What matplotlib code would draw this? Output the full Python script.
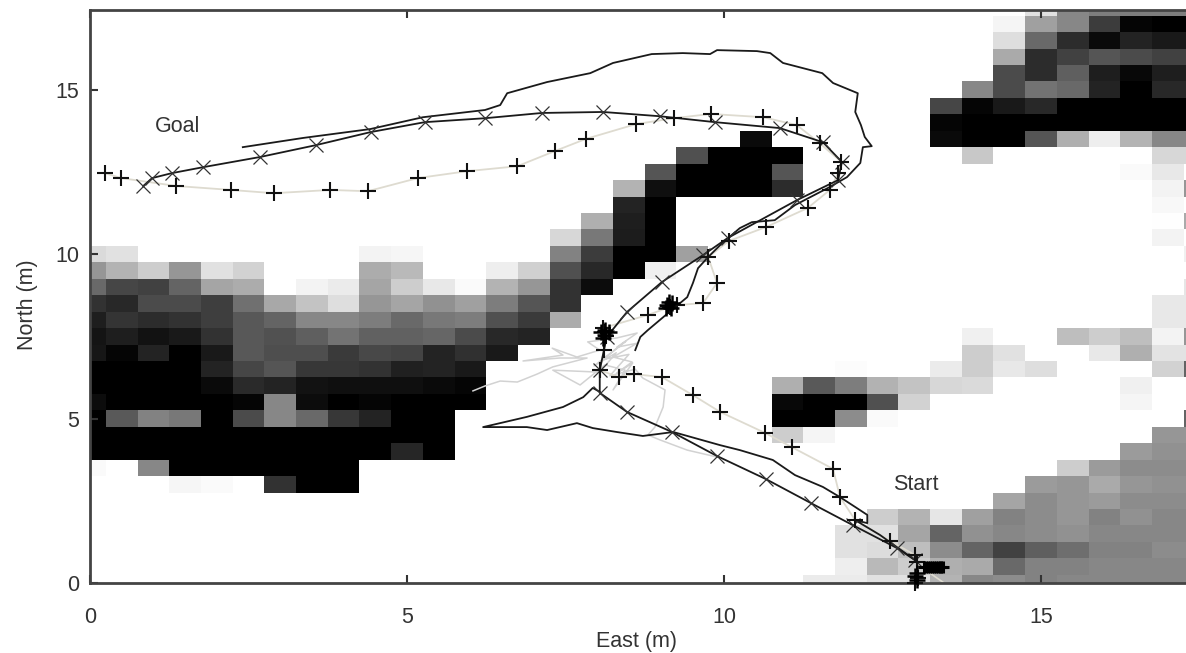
import numpy as np
import matplotlib
matplotlib.use("Agg")
import matplotlib.pyplot as plt

# occupancy map: (row, first column, grey levels); the remainder of the grid is white
N_CELLS = 36
CELL_SIZE = 0.5
MAP_RUNS = [
    (0, 23, [235,235,225,225,180,135,140,130,135,135,135,135,135]),
    (1, 24, [238,185,205,175,170,105,130,130,135,135,135,135]),
    (2, 24, [225,220,190,140,100,65,95,110,130,130,140,140]),
    (3, 24, [225,225,165,100,145,135,140,145,135,135,135,135]),
    (4, 25, [205,180,230,160,130,140,150,130,145,135,135]),
    (5, 29, [165,140,150,155,140,140,140]),
    (6, 3, [246,250,255,50,0,0]), (6, 30, [155,150,170,150,145,145]),
    (7, 0, [250,255,135,0,0,0,0,0,0]), (7, 31, [205,155,140,140,140]),
    (8, 0, [0,0,0,0,0,0,0,0,0,0,38,0]), (8, 33, [155,145,145]),
    (9, 0, [0,0,0,0,0,0,0,0,0,0,0,0]), (9, 22, [205,245]), (9, 34, [150,150]),
    (10, 0, [0,90,130,120,0,75,135,105,55,35,0,0]), (10, 22, [0,0,140,250]), (10, 35, [100]),
    (11, 0, [12,0,0,0,0,5,135,12,0,5,0,0,0]), (11, 22, [8,0,0,80,210]), (11, 33, [245]),
    (12, 0, [0,0,0,0,10,42,35,18,15,15,15,10,5]), (12, 22, [175,90,125,178,195,215,218]), (12, 33, [240]),
    (13, 0, [0,0,0,0,35,70,85,55,55,50,32,35,25]), (13, 24, [252]), (13, 27, [235,205,232,222]), (13, 34, [210,100]),
    (14, 0, [22,5,35,0,25,88,78,78,58,72,68,35,48,25]), (14, 28, [205,225]), (14, 32, [232,175,228,228]),
    (15, 0, [20,30,18,25,50,88,82,95,115,98,98,102,75,40,35]), (15, 28, [240]), (15, 31, [190,205,190,243,150]),
    (16, 0, [30,52,45,50,62,88,100,135,135,125,105,120,125,80,58,172]), (16, 34, [232,232]),
    (17, 0, [50,40,75,75,62,112,168,195,222,150,165,145,160,125,85,50]), (17, 34, [232,232]),
    (18, 0, [105,70,65,100,165,172,255,243,235,165,205,232,250,180,150,50,12]), (18, 35, [230]),
    (19, 0, [150,180,205,150,225,210,255,255,255,172,185,255,255,238,208,80,40,0,240]),
    (20, 0, [218,225,255,255,255,255,255,255,255,243,246,255,255,255,255,130,60,0,0,160]), (20, 35, [240]),
    (21, 15, [215,120,28,0]), (21, 34, [244]),
    (22, 16, [175,30,0]), (22, 34, [254,170]),
    (23, 17, [35,0]), (23, 34, [248]),
    (24, 17, [180,15,0,0,0,45]), (24, 34, [243,150]),
    (25, 18, [85,0,0,0,85]), (25, 33, [250,232]),
    (26, 19, [80,0,0,0]), (26, 28, [200]), (26, 34, [215,215]),
    (27, 21, [10]), (27, 27, [10,0,0,85,175,238,180,135,135]),
    (28, 27, [5,0,0,0,0,0,0,0,0]),
    (29, 27, [70,5,25,40,0,0,0,0,0]),
    (30, 28, [135,75,115,105,35,0,40,40]),
    (31, 29, [75,45,95,30,8,30,30]),
    (32, 29, [170,45,65,85,75,65,65]),
    (33, 29, [222,105,45,10,35,25,25]),
    (34, 29, [245,160,135,60,5,0,0]),
    (35, 30, [225,135,125,125,125,125]),
]

# "+" trajectory (metres)
plus_x = [13.01,13.06,13.04,13.01,12.62,12.07,11.83,11.72,11.07,10.65,9.94,9.51,9.02,8.58,8.34,
          8.04,8.11,8.14,8.12,8.09,8.80,9.15,9.12,9.26,9.67,9.89,9.75,10.08,10.66,11.32,11.67,11.80,11.85,11.51,11.15,
          10.62,9.79,9.21,8.61,7.82,7.33,6.74,5.95,5.17,4.38,3.79,2.90,2.22,1.36,0.49,0.24]
plus_y = [0.00,0.15,0.64,0.85,1.28,1.91,2.61,3.47,4.13,4.56,5.20,5.71,6.26,6.35,6.26,
          6.47,7.08,7.51,7.63,7.75,8.15,8.39,8.42,8.45,8.51,9.12,9.91,10.40,10.82,11.40,11.95,12.46,12.80,13.37,13.92,
          14.16,14.26,14.13,13.95,13.50,13.13,12.67,12.52,12.31,11.91,11.95,11.85,11.95,12.07,12.31,12.46]
tail_x = [13.06,13.45]
tail_y = [0.55,0.03]

# repeated "+" fixes where the trajectory lingers (metres)
linger_x = [8.12,8.06,8.18,8.12,8.09,9.10,9.16,9.18,9.08,9.13,13.04,13.01,13.04]
linger_y = [7.70,7.63,7.63,7.55,7.45,8.45,8.35,8.50,8.35,8.55,0.10,0.22,0.30]
start_x = [13.16,13.19,13.22,13.25,13.28,13.31,13.34,13.37,13.40,13.43,13.46]
start_y = [0.50,0.50,0.50,0.50,0.50,0.50,0.50,0.50,0.50,0.50,0.50]

# "x" trajectory (metres)
cross_x = [13.01,12.73,12.03,11.37,10.66,9.89,9.18,8.47,8.04,8.04,8.15,8.47,9.02,9.67,10.06,11.15,11.80,11.86,11.56,
           10.88,9.86,8.99,8.09,7.13,6.23,5.28,4.43,3.56,2.68,1.78,1.29,0.98,0.84]
cross_y = [0.70,1.06,1.76,2.43,3.16,3.86,4.59,5.20,5.78,6.47,7.48,8.24,9.15,9.97,10.49,11.64,12.25,12.80,13.40,
           13.83,14.01,14.19,14.32,14.29,14.13,14.01,13.71,13.31,12.95,12.64,12.46,12.31,12.07]

# unmarked black trajectory, first and second stretch (metres)
path1_x = [13.01,12.46,12.07,12.26,12.26,12.07,11.83,11.56,11.12,10.77,10.25,9.94,9.20,8.72,8.31,7.93,7.68,7.21,6.89,6.20,
           6.89,7.46,7.78,7.93,8.04]
path1_y = [0.70,1.46,1.91,1.82,2.07,2.31,2.61,2.92,3.28,3.74,4.04,4.19,4.59,4.47,4.59,4.71,4.86,4.65,4.74,4.74,
           5.05,5.35,5.65,5.93,5.81]
path2_x = [8.60,8.68,8.80,9.12,9.42,9.51,9.59,9.75,9.97,10.25,10.44,10.80,11.12,11.67,11.94,12.15,12.19,12.33,12.22,12.16,
           12.07,12.11,11.72,11.55,10.93,10.73,10.52,9.89,9.78,9.35,8.86,8.25,7.89,7.21,6.58,6.47,6.23,5.25,4.42,3.36,2.41]
path2_y = [7.08,7.48,7.69,8.21,8.69,9.12,9.57,9.91,10.33,10.79,10.97,11.03,11.49,12.04,12.34,12.77,13.25,13.28,13.56,13.92,
           14.32,14.89,15.20,15.50,15.81,16.11,16.17,16.20,16.08,16.11,16.08,15.81,15.50,15.23,14.89,14.53,14.38,14.16,13.80,13.53,13.25]

# light grey tangle (metres)
tangle_x = [6.04,6.23,6.47,6.74,7.05,7.30,7.84,7.41,6.83,7.46,7.29,7.68,8.04,7.85,8.31,8.63,8.31,8.63,8.25,8.55,8.31,8.56,8.25,
            8.44,8.12,7.73,7.30,8.04,8.30,7.95,8.45,8.10,8.50,8.20,8.60,8.72,9.07,9.04,8.91,8.80,8.99,9.42,9.89]
tangle_y = [5.84,5.99,6.14,6.11,6.35,6.57,6.84,6.84,6.75,6.93,7.14,6.87,7.08,7.33,7.45,7.60,7.17,7.29,6.87,6.72,6.38,6.69,5.87,
            6.47,6.63,6.02,6.47,6.41,7.00,6.60,7.35,6.80,6.95,6.30,6.50,6.23,5.87,5.35,4.74,4.50,4.35,4.04,3.83]

x_ticks = [0, 5, 10, 15]
y_ticks = [0, 5, 10, 15]
x_limit = 17.35
y_limit = 17.42
labels = ["Goal", "Start"]
label_x = [1.03, 12.67]
label_y = [13.89, 2.98]

grid = np.full((N_CELLS, N_CELLS), 255.0)
for row, first, levels in MAP_RUNS:
    grid[row, first:first + len(levels)] = levels

plt.rcParams["font.family"] = ["Liberation Sans", "DejaVu Sans"]
W, H = 1186, 653
fig = plt.figure(figsize=(W / 100, H / 100), dpi=100)
ax = fig.add_axes([90 / W, (H - 583) / H, 1100 / W, 573 / H])
half = CELL_SIZE / 2
ax.imshow(grid, cmap="gray", vmin=0, vmax=255, origin="lower", aspect="auto",
          interpolation="nearest",
          extent=(-half, N_CELLS * CELL_SIZE - half, -half, N_CELLS * CELL_SIZE - half))

beige = "#dedbd0"
ax.plot(tail_x, tail_y, color=beige, lw=1.2, zorder=2, clip_on=False)
ax.plot(tangle_x, tangle_y, color="#d2d2d2", lw=1.1, zorder=2)
ax.plot(plus_x, plus_y, color=beige, lw=1.3, zorder=2.2, clip_on=False)
ax.plot(path1_x, path1_y, color="#1a1a1a", lw=1.3, zorder=3)
ax.plot(path2_x, path2_y, color="#1a1a1a", lw=1.3, zorder=3)
ax.plot(cross_x, cross_y, color="#1a1a1a", lw=1.3, zorder=3)
ax.plot(cross_x, cross_y, ls="none", marker="x", ms=9.5, mew=0.9, color="#333333", zorder=4)
ax.plot(plus_x, plus_y, ls="none", marker="+", ms=11.5, mew=1.5, color="#111111", zorder=5, clip_on=False)
ax.plot(linger_x, linger_y, ls="none", marker="+", ms=11.5, mew=1.8, color="#000000", zorder=5, clip_on=False)
ax.plot(start_x, start_y, ls="none", marker="+", ms=8, mew=2.2, color="#000000", zorder=5)

ax.set_xlim(0, x_limit)
ax.set_ylim(0, y_limit)
ax.set_xticks(x_ticks)
ax.set_yticks(y_ticks)
ax.tick_params(direction="in", length=6, width=1.5, color="#333333", labelcolor="#333333",
               labelsize=15.5, top=True, right=False)
ax.tick_params(axis="x", pad=17)
ax.tick_params(axis="y", pad=8)
for side, spine in ax.spines.items():
    spine.set_linewidth(2)
    spine.set_color("#444444")

ax.set_xlabel("East (m)", fontsize=15.5, color="#333333")
ax.xaxis.set_label_coords((637 - 90) / 1100, -(642 - 583) / 573, transform=ax.transAxes)
ax.xaxis.label.set_va("center")
ax.set_ylabel("North (m)", fontsize=15.5, color="#333333")
ax.yaxis.set_label_coords((27 - 90) / 1100, (583 - 305) / 573, transform=ax.transAxes)
ax.yaxis.label.set_va("center")

for text, x, y in zip(labels, label_x, label_y):
    ax.text(x, y, text, fontsize=15.5, color="#333333", ha="left", va="center", zorder=6)

fig.savefig("out.png", dpi=100)
